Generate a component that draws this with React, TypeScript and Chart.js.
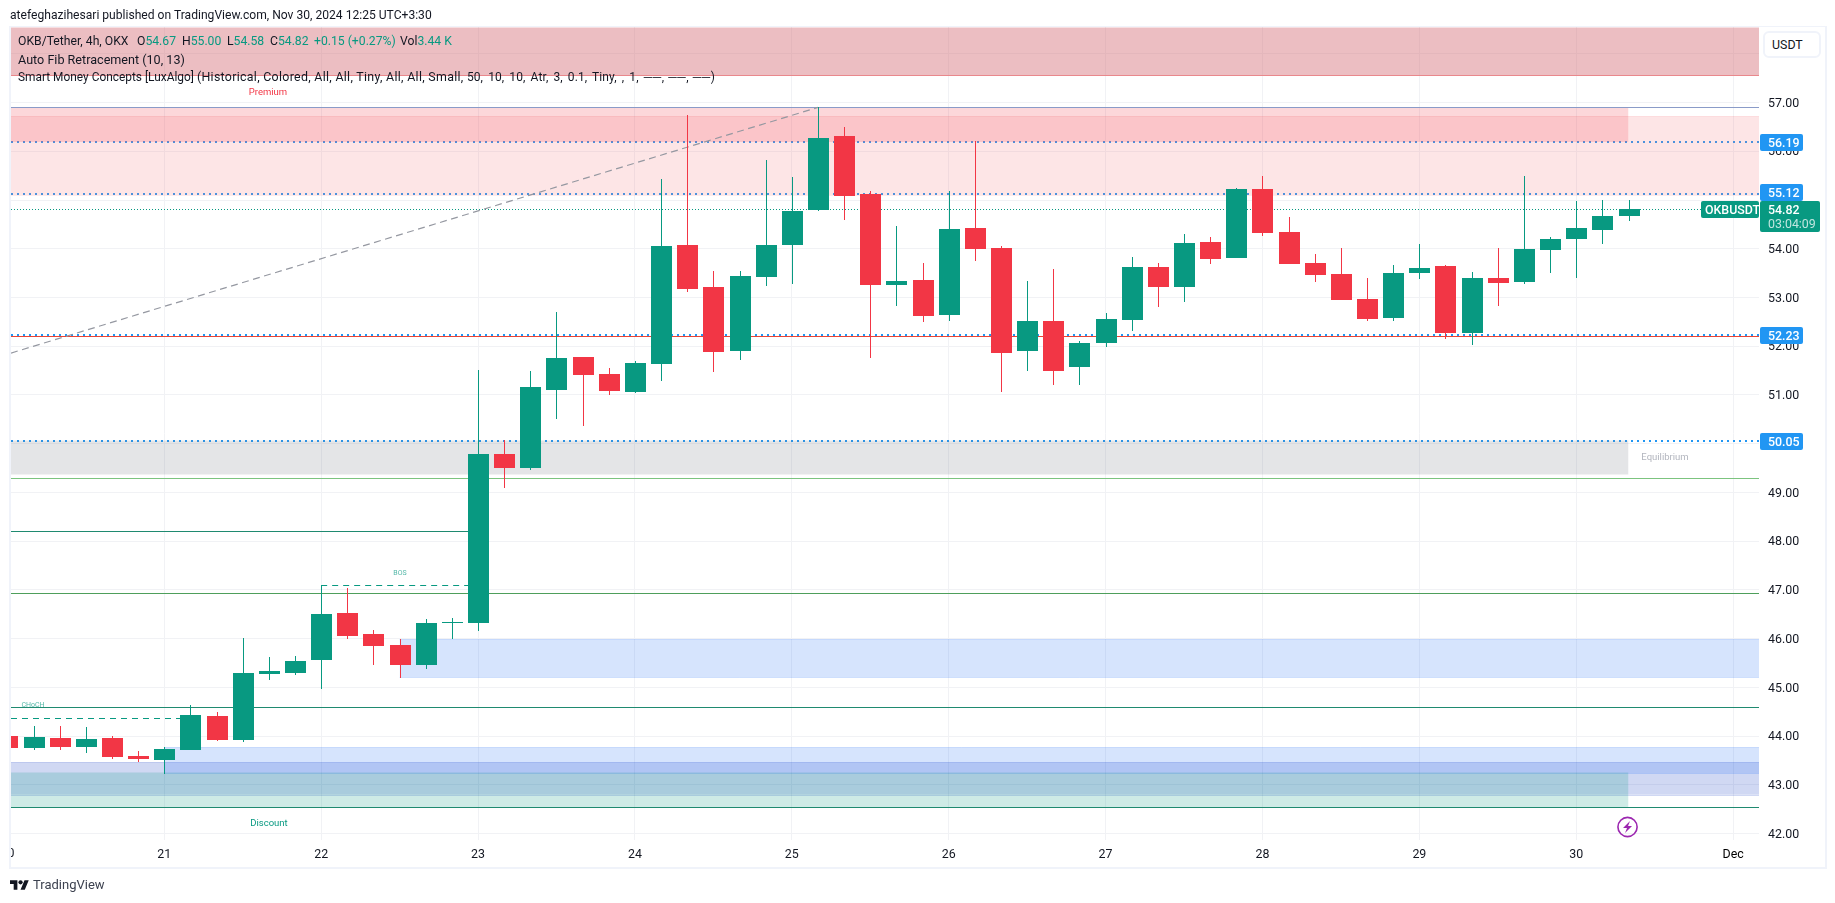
import React, { useEffect, useRef } from "react";
import Chart from "chart.js/auto";

// ---------- candle values (4h bars, bar index 0 = Nov 20 00:00) ----------
const opens = [44.01,43.76,43.97,43.78,43.97,43.60,43.51,43.72,44.42,43.93,45.28,45.30,45.57,46.53,46.10,45.88,45.47,46.33,46.33,49.78,49.51,51.11,51.77,51.44,51.07,51.63,54.07,53.21,51.91,53.42,54.07,54.79,56.31,55.12,53.25,53.35,52.65,54.42,54.01,51.91,52.51,51.57,52.06,52.53,53.62,53.21,54.13,53.81,55.22,54.34,53.70,53.48,52.96,52.57,53.50,53.64,52.28,53.41,53.31,53.97,54.20,54.38,54.67];
const highs = [44.01,44.21,44.21,44.19,44.01,43.70,43.78,44.64,44.50,46.02,45.63,45.65,47.10,47.04,46.18,46.00,46.41,46.43,51.52,50.07,51.50,52.70,51.77,51.55,51.69,55.43,56.74,53.54,53.54,55.82,55.47,56.91,56.50,55.18,54.46,53.70,55.18,56.21,54.05,53.33,53.58,52.10,52.68,53.83,53.70,54.30,54.24,55.24,55.49,54.65,53.89,54.01,53.40,53.66,54.09,53.66,53.52,54.01,55.49,54.24,54.98,55.00,55.00];
const lows = [43.76,43.72,43.72,43.66,43.53,43.47,43.23,43.72,43.90,43.88,45.16,45.26,44.97,46.00,45.47,45.20,45.38,46.00,46.16,49.10,49.47,50.50,50.36,51.01,51.05,51.28,53.11,51.48,51.71,53.23,53.27,54.77,54.59,51.75,52.82,52.49,52.51,53.74,51.07,51.50,51.20,51.20,51.98,52.31,52.80,52.90,53.68,53.81,54.26,53.68,53.31,52.94,52.51,52.51,53.37,52.14,52.02,52.82,53.27,53.50,53.40,54.09,54.58];
const closes = [43.76,43.99,43.78,43.95,43.58,43.53,43.74,44.44,43.93,45.30,45.34,45.55,46.51,46.06,45.86,45.47,46.33,46.35,49.78,49.51,51.16,51.75,51.42,51.09,51.65,54.05,53.17,51.89,53.44,54.07,54.77,56.27,55.08,53.25,53.33,52.63,54.40,53.99,51.87,52.51,51.50,52.06,52.55,53.62,53.21,54.11,53.79,55.22,54.32,53.68,53.46,52.94,52.55,53.50,53.60,52.27,53.40,53.29,53.99,54.20,54.42,54.67,54.82];

// ---------- axes ----------
const dayBars = [0,6,12,18,24,30,36,42,48,54,60,66];
const dayLabels = ["20","21","22","23","24","25","26","27","28","29","30","Dec"];
const priceTicks = [42,43,44,45,46,47,48,49,50,51,52,53,54,55,56,57,58];
const xFirst = 0.138;
const xLast = 66.99;
const priceFloor = 41.87;
const priceCeil = 58.55;

// ---------- horizontal levels ----------
const dottedLevels = [56.19,55.12,52.23,50.05];
const lastPrice = 54.82;
const countdown = "03:04:09";
const swingHigh = 56.9;
const redLevel = 52.21;
const equilibriumLevel = 49.3;
const swingLevelA = 48.21;
const swingLevelB = 46.94;
const swingLevelC = 44.6;
const discountLevel = 42.54;
const bosLevel = 47.1;
const bosFromBar = 12;
const bosToBar = 18;
const chochLevel = 44.38;
const chochToBar = 7;
const fibStart = 51.86;
const fibEnd = 56.9;
const fibEndBar = 31;

// ---------- zones ----------
const zoneTops = [58.55,56.9,56.72,50.08,45.99,43.48,43.77,43.26];
const zoneBottoms = [57.555,56.19,55.09,49.37,45.21,42.8,43.24,42.54];
const zoneFromBars = [xFirst,xFirst,xFirst,xFirst,15,xFirst,6,xFirst];
const zoneToBars = [xLast,62,xLast,62,xLast,xLast,xLast,62];

const GREEN = "#089981";
const RED = "#f23645";
const BLUE = "#2196f3";
const zoneFills = ["rgba(213,111,120,0.45)","rgba(242,54,69,0.2)","rgba(247,124,128,0.2)","rgba(120,123,134,0.2)","rgba(49,121,245,0.2)","rgba(20,60,195,0.2)","rgba(49,121,245,0.2)","rgba(8,153,129,0.2)"];
const zoneTopEdges = ["transparent","transparent","rgba(242,54,69,0.12)","transparent","rgba(49,121,245,0.2)","rgba(20,60,195,0.2)","rgba(49,121,245,0.2)","transparent"];
const zoneBottomEdges = ["#ee8f92","transparent","transparent","transparent","rgba(49,121,245,0.2)","rgba(20,60,195,0.2)","rgba(49,121,245,0.2)","transparent"];

const FONT = "Roboto, sans-serif";
const PLOT = { left: 11, top: 27, right: 1759, bottom: 840 };

function flat(y: number, from = xFirst, to = xLast) {
  return [{ x: from, y }, { x: to, y }];
}

function lineSet(y: number, color: string, order: number, extra: any = {}, from = xFirst, to = xLast) {
  return {
    type: "line", data: flat(y, from, to), borderColor: color, borderWidth: 1, pointRadius: 0,
    fill: false, tension: 0, order, snap: "odd", ...extra,
  };
}

const roundBox = (ctx: any, x: number, y: number, w: number, h: number, r: number, color: string) => {
  ctx.fillStyle = color;
  ctx.beginPath();
  ctx.roundRect(x, y, w, h, r);
  ctx.fill();
};

const snapPlugin = {
  id: "snap",
  afterDatasetsUpdate(chart: any) {
    chart.data.datasets.forEach((ds: any, i: number) => {
      const meta = chart.getDatasetMeta(i);
      if (ds.type === "bar") {
        meta.data.forEach((el: any) => {
          const top = Math.round(Math.min(el.y, el.base));
          let bottom = Math.round(Math.max(el.y, el.base));
          if (bottom === top) bottom += 1;
          el.x = Math.round(el.x) + 0.5;
          el.y = top;
          el.base = bottom;
          el.height = bottom - top;
        });
      } else if (ds.snap === "odd") {
        meta.data.forEach((p: any) => { p.y = Math.round(p.y) + 0.5; });
      } else if (ds.snap === "even") {
        meta.data.forEach((p: any) => { p.y = Math.round(p.y); });
      }
    });
  },
};

const labelsPlugin = {
  id: "labels",
  afterDraw(chart: any) {
    const { ctx, scales } = chart;
    const xs = scales.x;
    const ys = scales.y;
    ctx.save();
    ctx.textBaseline = "middle";

    // clipped first day label
    ctx.save();
    ctx.beginPath();
    ctx.rect(PLOT.left, PLOT.bottom, 40, 40);
    ctx.clip();
    ctx.fillStyle = "#131722";
    ctx.font = `12.4px ${FONT}`;
    ctx.textAlign = "center";
    ctx.fillText(dayLabels[0], xs.getPixelForValue(dayBars[0]), 854);
    ctx.restore();

    // chart annotations
    const note = (t: string, x: number, y: number, size: number, color: string) => {
      ctx.font = `${size}px ${FONT}`;
      ctx.fillStyle = color;
      ctx.textAlign = "center";
      ctx.fillText(t, x, y);
    };
    note("Premium", 268, 93, 9.5, RED);
    note("Discount", 269, 823.5, 9.5, GREEN);
    note("Equilibrium", 1665, 458, 9.5, "#b2b5be");
    note("BOS", 400, 573, 7, "rgba(8,153,129,0.7)");
    note("CHoCH", 33, 705.5, 7, "rgba(8,153,129,0.7)");

    // price badges
    const lastY = Math.round(ys.getPixelForValue(lastPrice));
    const lastTop = lastY - 8;
    ctx.font = `500 12.4px ${FONT}`;
    dottedLevels.forEach((v) => {
      let top = Math.round(ys.getPixelForValue(v)) - 8;
      if (top + 17 > lastTop && top < lastTop) top = lastTop - 17;
      roundBox(ctx, 1760, top, 43, 17, 2, BLUE);
      ctx.fillStyle = "#ffffff";
      ctx.textAlign = "left";
      ctx.fillText(v.toFixed(2), 1768, top + 9.5);
    });
    roundBox(ctx, 1760, lastTop, 60, 31, 2, GREEN);
    roundBox(ctx, 1701, lastTop, 58, 17, 2, GREEN);
    ctx.fillStyle = "#ffffff";
    ctx.textAlign = "left";
    ctx.fillText(lastPrice.toFixed(2), 1768, lastTop + 9.5);
    ctx.fillText("OKBUSDT", 1705, lastTop + 9.5);
    ctx.fillStyle = "rgba(255,255,255,0.75)";
    ctx.font = `12.4px ${FONT}`;
    ctx.fillText(countdown, 1768, lastTop + 23.5);

    // bolt mark
    const bx = xs.getPixelForValue(opens.length - 1) - 1;
    const by = 827;
    ctx.strokeStyle = "#9c27b0";
    ctx.lineWidth = 1.6;
    ctx.beginPath();
    ctx.arc(bx, by, 9.6, 0, Math.PI * 2);
    ctx.stroke();
    ctx.fillStyle = "#9c27b0";
    ctx.beginPath();
    ctx.moveTo(bx + 2.5, by - 6);
    ctx.lineTo(bx - 4.5, by + 1);
    ctx.lineTo(bx - 0.5, by + 1);
    ctx.lineTo(bx - 2.5, by + 6);
    ctx.lineTo(bx + 4.5, by - 1);
    ctx.lineTo(bx + 0.5, by - 1);
    ctx.closePath();
    ctx.fill();
    ctx.restore();
  },
};

export default function App() {
  const canvasRef = useRef<HTMLCanvasElement | null>(null);

  useEffect(() => {
    if (!canvasRef.current) return;
    const datasets: any[] = [];

    dottedLevels.forEach((v) => {
      datasets.push(lineSet(v, BLUE, 100, { borderWidth: 2, borderDash: [2, 4], snap: "even" }));
    });
    zoneTops.forEach((top, i) => {
      datasets.push({
        type: "line",
        data: flat(top, zoneFromBars[i], zoneToBars[i]),
        borderColor: zoneTopEdges[i],
        borderWidth: 1,
        pointRadius: 0,
        tension: 0,
        backgroundColor: zoneFills[i],
        fill: { value: zoneBottoms[i] },
        order: 90 - i,
        snap: "odd",
      });
      datasets.push(lineSet(zoneBottoms[i], zoneBottomEdges[i], 90 - i, {}, zoneFromBars[i], zoneToBars[i]));
    });

    datasets.push(lineSet(swingHigh, "#8a9bc8", 50));
    datasets.push(lineSet(redLevel, "#ea4335", 50));
    datasets.push(lineSet(equilibriumLevel, "#7cc47f", 50));
    datasets.push(lineSet(swingLevelA, "#1f8a70", 50, {}, xFirst, 18));
    datasets.push(lineSet(swingLevelB, "#4e9f5b", 50));
    datasets.push(lineSet(swingLevelC, "#1f8a70", 50));
    datasets.push(lineSet(discountLevel, "#1f8a70", 50));
    datasets.push(lineSet(bosLevel, GREEN, 50, { borderDash: [6, 5] }, bosFromBar, bosToBar));
    datasets.push(lineSet(chochLevel, GREEN, 50, { borderDash: [6, 5] }, xFirst, chochToBar));
    datasets.push(lineSet(lastPrice, GREEN, 50, { borderDash: [1, 2] }));
    datasets.push({
      type: "line",
      data: [{ x: xFirst, y: fibStart }, { x: fibEndBar, y: fibEnd }],
      borderColor: "#9598a1",
      borderWidth: 1.2,
      borderDash: [7, 4.5],
      pointRadius: 0,
      fill: false,
      tension: 0,
      order: 49,
    });

    const barColors = opens.map((o, i) => (closes[i] >= o ? GREEN : RED));
    datasets.push({
      type: "bar",
      data: opens.map((_, i) => ({ x: i, y: [lows[i], highs[i]] })),
      backgroundColor: barColors,
      barThickness: 1,
      grouped: false,
      inflateAmount: 0,
      borderWidth: 0,
      order: 11,
    });
    datasets.push({
      type: "bar",
      data: opens.map((o, i) => ({ x: i, y: [o, closes[i]] })),
      backgroundColor: barColors,
      barThickness: 21,
      grouped: false,
      inflateAmount: 0,
      borderWidth: 0,
      order: 10,
    });

    const chart = new Chart(canvasRef.current, {
      type: "bar",
      data: { datasets },
      plugins: [snapPlugin, labelsPlugin],
      options: {
        responsive: false,
        animation: false,
        events: [],
        layout: { autoPadding: false, padding: { left: PLOT.left, top: PLOT.top, right: 0, bottom: 0 } },
        plugins: { legend: { display: false }, tooltip: { enabled: false }, title: { display: false } },
        scales: {
          x: {
            type: "linear",
            min: xFirst,
            max: xLast,
            bounds: "data",
            offset: false,
            afterBuildTicks: (axis: any) => { axis.ticks = dayBars.slice(1).map((value) => ({ value })); },
            afterFit: (axis: any) => { axis.height = 903 - PLOT.bottom; },
            grid: { color: "#f1f2f5", drawTicks: false, offset: false },
            border: { display: false },
            ticks: {
              autoSkip: false,
              maxRotation: 0,
              padding: 7,
              color: (c: any) => (c.tick && c.tick.value === 66 ? "#000000" : "#131722"),
              font: { family: FONT, size: 12.4 },
              callback: (v: any) => dayLabels[dayBars.indexOf(v)],
            },
          },
          y: {
            type: "linear",
            position: "right",
            min: priceFloor,
            max: priceCeil,
            bounds: "data",
            afterBuildTicks: (axis: any) => { axis.ticks = priceTicks.map((value) => ({ value })); },
            afterFit: (axis: any) => { axis.width = 1835 - PLOT.right; },
            grid: { color: "#f1f2f5", drawTicks: false },
            border: { display: false },
            ticks: {
              autoSkip: false,
              padding: 9,
              labelOffset: 1,
              color: "#131722",
              font: { family: FONT, size: 12.4 },
              callback: (v: any) => Number(v).toFixed(2),
            },
          },
        },
      } as any,
    } as any);
    return () => chart.destroy();
  }, []);

  const text = { position: "absolute", left: 18, font: `12.2px ${FONT}`, color: "#131722", whiteSpace: "pre" } as any;
  const val = { color: GREEN };
  const ohlc: [string, string, number][] = [
    ["O", "54.67", 137],
    ["H", "55.00", 182],
    ["L", "54.58", 227],
    ["C", "54.82", 270],
    ["", "+0.15 (+0.27%)", 314],
    ["Vol", "3.44 K", 400],
  ];
  return (
    <div style={{ position: "absolute", left: 0, top: 0, width: 1835, height: 903, background: "#fff", overflow: "hidden" }}>
      <canvas ref={canvasRef} width={1835} height={903} style={{ position: "absolute", left: 0, top: 0, width: 1835, height: 903 }} />
      <div style={{ position: "absolute", left: 9, top: 26, width: 1814, height: 840, borderStyle: "solid", borderColor: "#f0f3fa", borderWidth: "1px 2px 2px 2px" }} />
      <div style={{ ...text, left: 10, top: 8, font: `12.1px ${FONT}`, lineHeight: "15px" }}>atefeghazihesari published on TradingView.com, Nov 30, 2024 12:25 UTC+3:30</div>
      <div style={{ ...text, top: 34, lineHeight: "15px" }}>OKB/Tether, 4h, OKX</div>
      {ohlc.map(([k, v, x]) => (
        <div key={v} style={{ ...text, left: x, top: 34, lineHeight: "15px" }}>{k}<span style={val}>{v}</span></div>
      ))}
      <div style={{ ...text, top: 52, font: `12.6px ${FONT}`, lineHeight: "15px" }}>Auto Fib Retracement (10, 13)</div>
      <div style={{ ...text, top: 69, font: `11.9px ${FONT}`, lineHeight: "15px" }}>
        {"Smart Money Concepts [LuxAlgo] "}
        <span style={{ fontSize: 12.4, letterSpacing: 0.3 }}>{"(Historical, Colored, All, All, Tiny, All, All, Small, "}</span>
        <span style={{ fontSize: 12, letterSpacing: 0.1, wordSpacing: 2 }}>{"50, 10, 10, Atr, 3, 0.1, Tiny, , 1, "}</span>
        <span style={{ letterSpacing: 0.6 }}>{"──, ──, ──)"}</span>
      </div>
      <div style={{ position: "absolute", left: 1763, top: 31, width: 58, height: 27, boxSizing: "border-box", border: "2px solid #f0f3fa", borderRadius: 6, background: "#fff", font: `12.4px ${FONT}`, color: "#131722", lineHeight: "23px", paddingLeft: 7 }}>USDT</div>
      <svg style={{ position: "absolute", left: 10, top: 880 }} width={19} height={10} viewBox="0 4 36 18">
        <path fill="#131722" d="M14 22H7V11H0V4h14v18zM28 22h-8l7.5-18h8L28 22z" />
        <circle fill="#131722" cx="20" cy="8" r="4" />
      </svg>
      <div style={{ ...text, left: 33, top: 876, font: `13px ${FONT}`, color: "#3d4250", lineHeight: "18px" }}>TradingView</div>
    </div>
  );
}
